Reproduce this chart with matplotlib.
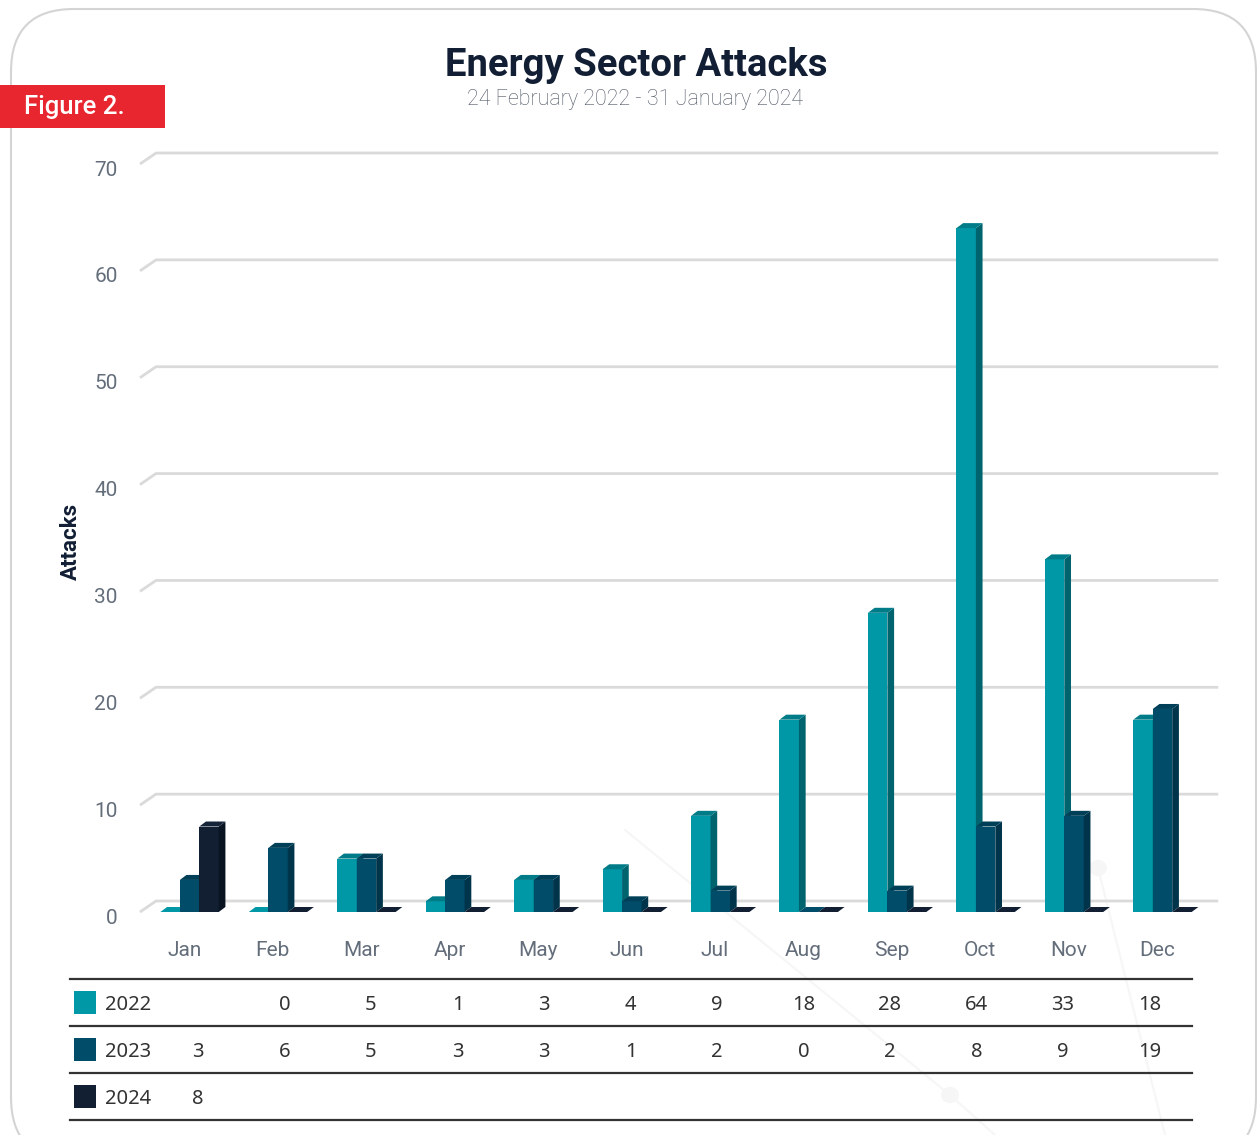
import matplotlib
matplotlib.use("Agg")
import matplotlib.pyplot as plt
from matplotlib.patches import Rectangle, Polygon, FancyBboxPatch, Circle
from matplotlib.lines import Line2D
from matplotlib.transforms import ScaledTranslation

# ---- data ----
months = ["Jan", "Feb", "Mar", "Apr", "May", "Jun", "Jul", "Aug", "Sep", "Oct", "Nov", "Dec"]
years = ["2022", "2023", "2024"]
attacks_2022 = [None, 0, 5, 1, 3, 4, 9, 18, 28, 64, 33, 18]
attacks_2023 = [3, 6, 5, 3, 3, 1, 2, 0, 2, 8, 9, 19]
attacks_2024 = [8, None, None, None, None, None, None, None, None, None, None, None]
yticks = [0, 10, 20, 30, 40, 50, 60, 70]

series = [attacks_2022, attacks_2023, attacks_2024]
# front, side, top colours
colors = [("#0097a7", "#00646f", "#007b88"),
          ("#004c69", "#00344a", "#003f58"),
          ("#121f33", "#0a1322", "#16243a")]

W, H = 1257, 1135
fig = plt.figure(figsize=(W / 100, H / 100), dpi=100)


def fx(px):
    return px / W


def fy(py):
    return 1 - py / H


# rounded frame
frame = FancyBboxPatch((fx(11), fy(1160)), fx(1256) - fx(11), fy(9) - fy(1160),
                       boxstyle="round,pad=0,rounding_size=0.05", transform=fig.transFigure,
                       fc="none", ec="#d4d4d4", lw=1.5, mutation_aspect=W / H, zorder=-1)
fig.patches.append(frame)

# faint decoration in the background
for xs, ys in [([625, 950, 995], [830, 1095, 1135]), ([1098, 1165], [868, 1135])]:
    fig.lines.append(Line2D([fx(x) for x in xs], [fy(y) for y in ys], transform=fig.transFigure,
                            color="#f6f6f6", lw=1.5, zorder=-2))
for cx, cy in [(950, 1095), (1098, 868)]:
    fig.patches.append(Circle((fx(cx), fy(cy)), 9 / W, transform=fig.transFigure,
                              fc="#f6f6f6", ec="none", zorder=-2))

# red tag
fig.patches.append(Rectangle((0, fy(128)), fx(165), fy(85) - fy(128), transform=fig.transFigure,
                             fc="#e8262f", ec="none"))
fig.text(fx(24), fy(107), "Figure 2.", color="white", fontsize=18.5, family="Roboto",
         weight="medium", ha="left", va="center")

fig.text(fx(636), fy(65), "Energy Sector Attacks", color="#111e33", fontsize=27.5,
         family="Roboto", weight="bold", ha="center", va="center")
fig.text(fx(635), fy(99), "24 February 2022 - 31 January 2024", color="#4e5664", fontsize=15.5,
         family="Roboto", weight="light", ha="center", va="center")

# ---- chart axes ----
step = 88.45
ax = fig.add_axes([fx(140), fy(912), 12 * step / W, (912 - 164) / H])
ax.set_xlim(-0.5, 11.5)
ax.set_ylim(0, 70)
for s in ax.spines.values():
    s.set_visible(False)
ax.set_facecolor("none")

# back grid with slanted edge
gdx, gdy = 16 / step, 11 / 10.69
for v in yticks:
    ax.plot([-0.5, -0.5 + gdx, (1218 - 184) / step], [v, v + gdy, v + gdy],
            color="#dadada", lw=2, zorder=0, clip_on=False, solid_capstyle="butt")

ax.set_yticks(yticks)
ax.set_yticklabels([str(v) for v in yticks])
ax.set_xticks(range(len(months)))
ax.set_xticklabels(months)
ax.tick_params(axis="both", length=0, labelsize=15, labelcolor="#646e7b")
ax.tick_params(axis="y", pad=16)
ax.tick_params(axis="x", pad=21)
for lbl in ax.get_yticklabels() + ax.get_xticklabels():
    lbl.set_family("Roboto")
    lbl.set_weight("normal")
off = ScaledTranslation(0, -4 / 100, fig.dpi_scale_trans)
for lbl in ax.get_yticklabels():
    lbl.set_transform(lbl.get_transform() + off)

ax.set_ylabel("Attacks", fontsize=16, weight="bold", color="#111e33", family="Roboto",
              labelpad=0)
ax.yaxis.set_label_coords((82 - 140) / (12 * step), (912 - 541) / (912 - 164))

# pseudo 3d bars
bw = 0.22
offsets = [-0.16, 0.06, 0.28]
dx, dy = 6.7 / step, 5 / 10.69
z = 2
for i in range(len(months)):
    for k, vals in enumerate(series):
        h = vals[i] if vals[i] is not None else 0
        x0 = i + offsets[k] - bw / 2
        x1 = x0 + bw
        cf, cs, ct = colors[k]
        if h > 0:
            ax.add_patch(Rectangle((x0, 0), bw, h, fc=cf, ec="none", zorder=z, clip_on=False))
            ax.add_patch(Polygon([(x1, 0), (x1 + dx, dy), (x1 + dx, h + dy), (x1, h)],
                                 fc=cs, ec="none", zorder=z, clip_on=False))
        ax.add_patch(Polygon([(x0, h), (x1, h), (x1 + dx, h + dy), (x0 + dx, h + dy)],
                             fc=ct if h > 0 else cf, ec="none", zorder=z, clip_on=False))
        z += 1

# ---- data table ----
tstep = 86.5
tax = fig.add_axes([fx(70), fy(1120), fx(1192) - fx(70), (1120 - 979) / H])
tax.set_xlim((70 - 198) / tstep, (1192 - 198) / tstep)
tax.set_ylim(3, 0)
tax.axis("off")
for r in range(4):
    tax.axhline(r, color="#333333", lw=1.6, clip_on=False)
sq_l = (74 - 198) / tstep
sq_w = 22 / tstep
lab_x = (105 - 198) / tstep
for r, vals in enumerate(series):
    tax.add_patch(Rectangle((sq_l, r + 0.5 - 0.24), sq_w, 0.48, fc=colors[r][0], ec="none"))
    tax.text(lab_x, r + 0.55, years[r], fontsize=14.5, color="#333333", family="Noto Sans",
             ha="left", va="center")
    for i, v in enumerate(vals):
        if v is not None:
            tax.text(i, r + 0.55, str(v), fontsize=14.5, color="#333333", family="Noto Sans",
                     ha="center", va="center")

fig.savefig("out.png", dpi=100)
